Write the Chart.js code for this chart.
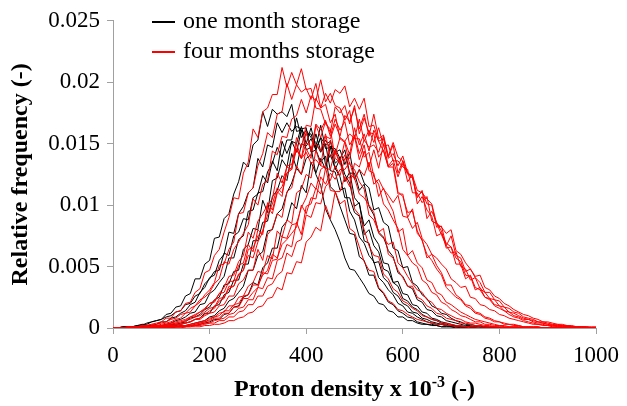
<!DOCTYPE html>
<html><head><meta charset="utf-8">
<script src="https://cdn.jsdelivr.net/npm/chart.js@4.4.1/dist/chart.umd.min.js"></script>
<style>html,body{margin:0;padding:0;background:#fff}#wrap{width:627px;height:406px}</style>
</head><body><div id="wrap"><canvas id="c" width="627" height="406"></canvas></div>
<script>
const protonDensity = [0,10,20,30,40,50,60,70,80,90,100,110,120,130,140,150,160,170,180,190,200,210,220,230,240,250,260,270,280,290,300,310,320,330,340,350,360,370,380,390,400,410,420,430,440,450,460,470,480,490,500,510,520,530,540,550,560,570,580,590,600,610,620,630,640,650,660,670,680,690,700,710,720,730,740,750,760,770,780,790,800,810,820,830,840,850,860,870,880,890,900,910,920,930,940,950,960,970,980,990,1000];
const xTickLabels = ['0','200','400','600','800','1000'];
const yTickLabels = ['0','0.005','0.01','0.015','0.02','0.025'];
const legendLabels = ['one month storage','four months storage'];
const xTitleParts = ['Proton density x 10','-3',' (-)'];
const yTitle = 'Relative frequency (-)';

const oneMonth_1 = [0,0,0.0001,0.0001,0.0001,0.0002,0.0003,0.0003,0.0005,0.0006,
0.0007,0.0011,0.0012,0.0017,0.0018,0.0026,0.0028,0.0040,0.0040,0.0052,
0.0055,0.0073,0.0074,0.0089,0.0093,0.0109,0.0119,0.0135,0.0131,0.0149,
0.0153,0.0176,0.0164,0.0178,0.0174,0.0176,0.0172,0.0182,0.0160,0.0161,
0.0145,0.0147,0.0125,0.0116,0.0097,0.0088,0.0080,0.0070,0.0057,0.0048,
0.0047,0.0041,0.0035,0.0028,0.0026,0.0020,0.0019,0.0014,0.0013,0.0009,
0.0009,0.0006,0.0006,0.0004,0.0003,0.0003,0.0002,0.0002,0.0001,0.0001,
0.0001,0,0,0,0,0,0,0,0,0,
0,0,0,0,0,0,0,0,0,0,
0,0,0,0,0,0,0,0,0,0,
0];
const oneMonth_2 = [0,0,0,0.0001,0.0001,0.0001,0.0001,0.0002,0.0002,0.0003,
0.0005,0.0005,0.0008,0.0009,0.0012,0.0014,0.0019,0.0021,0.0029,0.0033,
0.0041,0.0043,0.0055,0.0060,0.0078,0.0077,0.0093,0.0099,0.0110,0.0114,
0.0138,0.0131,0.0149,0.0147,0.0167,0.0159,0.0167,0.0160,0.0164,0.0162,
0.0163,0.0143,0.0145,0.0135,0.0140,0.0115,0.0111,0.0099,0.0088,0.0077,
0.0076,0.0058,0.0055,0.0043,0.0043,0.0032,0.0028,0.0021,0.0019,0.0014,
0.0012,0.0009,0.0008,0.0005,0.0004,0.0003,0.0003,0.0002,0.0001,0.0001,
0.0001,0.0001,0,0,0,0,0,0,0,0,
0,0,0,0,0,0,0,0,0,0,
0,0,0,0,0,0,0,0,0,0,
0];
const oneMonth_3 = [0,0,0,0,0,0.0001,0.0001,0.0001,0.0001,0.0002,
0.0002,0.0003,0.0004,0.0006,0.0007,0.0009,0.0012,0.0013,0.0019,0.0020,
0.0028,0.0031,0.0037,0.0042,0.0057,0.0057,0.0072,0.0075,0.0095,0.0096,
0.0110,0.0111,0.0127,0.0134,0.0147,0.0139,0.0153,0.0153,0.0171,0.0155,
0.0161,0.0155,0.0151,0.0143,0.0150,0.0128,0.0127,0.0112,0.0114,0.0095,
0.0088,0.0074,0.0069,0.0059,0.0054,0.0041,0.0037,0.0031,0.0027,0.0020,
0.0018,0.0013,0.0012,0.0009,0.0007,0.0005,0.0004,0.0003,0.0003,0.0002,
0.0001,0.0001,0.0001,0.0001,0,0,0,0,0,0,
0,0,0,0,0,0,0,0,0,0,
0,0,0,0,0,0,0,0,0,0,
0];
const oneMonth_4 = [0,0,0,0,0,0,0,0.0001,0,0.0001,
0.0001,0.0002,0.0003,0.0003,0.0004,0.0005,0.0008,0.0009,0.0011,0.0015,
0.0017,0.0023,0.0025,0.0035,0.0036,0.0046,0.0047,0.0064,0.0068,0.0081,
0.0080,0.0104,0.0094,0.0120,0.0122,0.0137,0.0131,0.0152,0.0150,0.0164,
0.0150,0.0163,0.0147,0.0165,0.0146,0.0147,0.0129,0.0138,0.0125,0.0118,
0.0099,0.0102,0.0076,0.0080,0.0067,0.0062,0.0048,0.0046,0.0037,0.0034,
0.0024,0.0022,0.0017,0.0015,0.0011,0.0009,0.0007,0.0006,0.0004,0.0003,
0.0002,0.0002,0.0001,0.0001,0.0001,0,0,0,0,0,
0,0,0,0,0,0,0,0,0,0,
0,0,0,0,0,0,0,0,0,0,
0];
const oneMonth_5 = [0,0,0,0,0,0,0,0,0,0.0001,
0.0001,0.0001,0.0002,0.0002,0.0003,0.0004,0.0005,0.0007,0.0008,0.0012,
0.0012,0.0018,0.0019,0.0027,0.0029,0.0039,0.0039,0.0052,0.0052,0.0071,
0.0071,0.0086,0.0087,0.0107,0.0112,0.0124,0.0120,0.0142,0.0130,0.0150,
0.0148,0.0154,0.0145,0.0155,0.0149,0.0152,0.0134,0.0138,0.0119,0.0127,
0.0106,0.0101,0.0083,0.0088,0.0074,0.0068,0.0053,0.0052,0.0037,0.0038,
0.0028,0.0027,0.0019,0.0018,0.0013,0.0012,0.0008,0.0007,0.0005,0.0004,
0.0003,0.0002,0.0002,0.0001,0.0001,0.0001,0,0,0,0,
0,0,0,0,0,0,0,0,0,0,
0,0,0,0,0,0,0,0,0,0,
0];
const oneMonth_6 = [0,0,0,0,0,0,0,0,0,0,
0,0.0001,0.0001,0.0001,0.0002,0.0002,0.0003,0.0004,0.0005,0.0006,
0.0009,0.0010,0.0014,0.0016,0.0022,0.0024,0.0029,0.0034,0.0047,0.0047,
0.0059,0.0062,0.0079,0.0080,0.0093,0.0097,0.0110,0.0118,0.0130,0.0125,
0.0138,0.0141,0.0158,0.0144,0.0153,0.0146,0.0146,0.0138,0.0145,0.0126,
0.0126,0.0112,0.0117,0.0099,0.0092,0.0078,0.0074,0.0063,0.0058,0.0045,
0.0042,0.0034,0.0032,0.0023,0.0021,0.0015,0.0014,0.0010,0.0009,0.0006,
0.0005,0.0004,0.0003,0.0002,0.0002,0.0001,0.0001,0.0001,0,0,
0,0,0,0,0,0,0,0,0,0,
0,0,0,0,0,0,0,0,0,0,
0];
const oneMonth_7 = [0,0,0,0,0,0,0,0,0,0,
0,0,0,0.0001,0.0001,0.0001,0.0002,0.0002,0.0003,0.0004,
0.0005,0.0007,0.0007,0.0011,0.0012,0.0017,0.0018,0.0025,0.0027,0.0037,
0.0035,0.0049,0.0053,0.0065,0.0065,0.0082,0.0087,0.0102,0.0097,0.0116,
0.0110,0.0135,0.0126,0.0138,0.0129,0.0148,0.0143,0.0145,0.0133,0.0143,
0.0121,0.0129,0.0118,0.0114,0.0096,0.0098,0.0086,0.0083,0.0065,0.0063,
0.0049,0.0050,0.0037,0.0034,0.0027,0.0024,0.0018,0.0016,0.0012,0.0011,
0.0008,0.0006,0.0005,0.0003,0.0003,0.0002,0.0002,0.0001,0.0001,0.0001,
0,0,0,0,0,0,0,0,0,0,
0,0,0,0,0,0,0,0,0,0,
0];
const oneMonth_8 = [0,0,0.0001,0.0001,0.0001,0.0002,0.0002,0.0004,0.0005,0.0006,
0.0007,0.0009,0.0010,0.0013,0.0014,0.0019,0.0020,0.0026,0.0028,0.0036,
0.0040,0.0046,0.0047,0.0061,0.0059,0.0075,0.0078,0.0089,0.0088,0.0106,
0.0109,0.0124,0.0118,0.0136,0.0128,0.0152,0.0142,0.0152,0.0143,0.0161,
0.0157,0.0158,0.0145,0.0155,0.0133,0.0141,0.0130,0.0123,0.0106,0.0106,
0.0094,0.0091,0.0071,0.0069,0.0053,0.0054,0.0041,0.0037,0.0029,0.0026,
0.0020,0.0018,0.0013,0.0012,0.0008,0.0007,0.0005,0.0004,0.0003,0.0002,
0.0002,0.0001,0.0001,0.0001,0,0,0,0,0,0,
0,0,0,0,0,0,0,0,0,0,
0,0,0,0,0,0,0,0,0,0,
0];

const fourMonths_1 = [0,0,0,0.0001,0.0001,0.0001,0.0002,0.0002,0.0003,0.0004,
0.0005,0.0008,0.0008,0.0013,0.0014,0.0020,0.0021,0.0029,0.0032,0.0045,
0.0047,0.0059,0.0064,0.0078,0.0090,0.0106,0.0105,0.0126,0.0135,0.0162,
0.0155,0.0176,0.0179,0.0190,0.0190,0.0212,0.0196,0.0208,0.0198,0.0211,
0.0194,0.0195,0.0179,0.0178,0.0166,0.0162,0.0138,0.0135,0.0120,0.0123,
0.0097,0.0092,0.0080,0.0067,0.0059,0.0058,0.0044,0.0040,0.0032,0.0029,
0.0022,0.0020,0.0016,0.0014,0.0010,0.0009,0.0007,0.0006,0.0004,0.0004,
0.0003,0.0002,0.0002,0.0001,0.0001,0.0001,0,0,0,0,
0,0,0,0,0,0,0,0,0,0,
0,0,0,0,0,0,0,0,0,0,
0];
const fourMonths_2 = [0,0,0,0,0,0.0001,0.0001,0.0001,0.0002,0.0002,
0.0003,0.0004,0.0005,0.0007,0.0008,0.0012,0.0013,0.0018,0.0021,0.0027,
0.0031,0.0037,0.0051,0.0052,0.0064,0.0070,0.0093,0.0094,0.0110,0.0114,
0.0132,0.0142,0.0159,0.0155,0.0174,0.0176,0.0199,0.0186,0.0198,0.0192,
0.0195,0.0186,0.0199,0.0179,0.0182,0.0167,0.0174,0.0154,0.0151,0.0133,
0.0129,0.0119,0.0113,0.0092,0.0088,0.0078,0.0081,0.0060,0.0057,0.0047,
0.0041,0.0034,0.0034,0.0025,0.0023,0.0018,0.0016,0.0012,0.0011,0.0008,
0.0007,0.0006,0.0004,0.0004,0.0003,0.0002,0.0002,0.0001,0.0001,0.0001,
0.0001,0,0,0,0,0,0,0,0,0,
0,0,0,0,0,0,0,0,0,0,
0];
const fourMonths_3 = [0,0,0,0.0001,0.0001,0.0001,0.0002,0.0002,0.0003,0.0003,
0.0004,0.0005,0.0007,0.0008,0.0011,0.0012,0.0016,0.0018,0.0023,0.0025,
0.0029,0.0036,0.0040,0.0054,0.0052,0.0064,0.0070,0.0077,0.0084,0.0105,
0.0100,0.0117,0.0120,0.0144,0.0141,0.0156,0.0155,0.0170,0.0173,0.0186,
0.0175,0.0189,0.0185,0.0202,0.0184,0.0191,0.0181,0.0179,0.0169,0.0177,
0.0154,0.0154,0.0139,0.0143,0.0123,0.0117,0.0101,0.0096,0.0088,0.0081,
0.0064,0.0059,0.0053,0.0050,0.0039,0.0036,0.0029,0.0027,0.0021,0.0019,
0.0015,0.0013,0.0010,0.0009,0.0007,0.0005,0.0005,0.0003,0.0003,0.0002,
0.0002,0.0001,0.0001,0.0001,0.0001,0,0.0001,0,0,0,
0,0,0,0,0,0,0,0,0,0,
0];
const fourMonths_4 = [0,0,0,0,0,0,0,0.0001,0.0001,0.0001,
0.0002,0.0002,0.0003,0.0004,0.0004,0.0006,0.0007,0.0009,0.0010,0.0013,
0.0016,0.0017,0.0024,0.0025,0.0032,0.0034,0.0043,0.0047,0.0059,0.0057,
0.0070,0.0078,0.0099,0.0093,0.0110,0.0115,0.0126,0.0131,0.0155,0.0147,
0.0165,0.0164,0.0187,0.0179,0.0191,0.0183,0.0194,0.0191,0.0197,0.0180,
0.0187,0.0178,0.0187,0.0164,0.0165,0.0152,0.0144,0.0131,0.0134,0.0111,
0.0107,0.0094,0.0095,0.0079,0.0071,0.0060,0.0055,0.0048,0.0043,0.0033,
0.0029,0.0025,0.0023,0.0018,0.0016,0.0012,0.0011,0.0008,0.0007,0.0005,
0.0005,0.0003,0.0003,0.0002,0.0002,0.0001,0.0001,0.0001,0.0001,0,
0,0.0001,0,0,0,0,0,0,0,0,
0];
const fourMonths_5 = [0,0,0,0,0,0,0,0,0,0.0001,
0.0001,0.0001,0.0002,0.0003,0.0003,0.0004,0.0005,0.0007,0.0007,0.0010,
0.0012,0.0013,0.0018,0.0019,0.0026,0.0026,0.0036,0.0039,0.0047,0.0047,
0.0064,0.0055,0.0076,0.0081,0.0093,0.0090,0.0111,0.0114,0.0132,0.0125,
0.0146,0.0138,0.0165,0.0155,0.0168,0.0159,0.0180,0.0175,0.0181,0.0166,
0.0181,0.0158,0.0171,0.0159,0.0158,0.0139,0.0145,0.0131,0.0131,0.0109,
0.0109,0.0090,0.0097,0.0077,0.0072,0.0057,0.0060,0.0051,0.0045,0.0035,
0.0035,0.0027,0.0024,0.0019,0.0018,0.0013,0.0012,0.0009,0.0008,0.0006,
0.0005,0.0004,0.0003,0.0003,0.0002,0.0001,0.0001,0.0001,0.0001,0,
0,0,0.0001,0,0,0,0,0,0,0,
0];
const fourMonths_6 = [0,0,0,0,0,0,0,0,0,0,
0.0001,0.0001,0.0001,0.0001,0.0002,0.0002,0.0003,0.0004,0.0005,0.0006,
0.0008,0.0009,0.0012,0.0013,0.0018,0.0018,0.0025,0.0026,0.0034,0.0037,
0.0046,0.0045,0.0059,0.0056,0.0079,0.0074,0.0088,0.0085,0.0110,0.0113,
0.0125,0.0122,0.0145,0.0132,0.0156,0.0154,0.0166,0.0156,0.0173,0.0168,
0.0179,0.0162,0.0174,0.0156,0.0174,0.0154,0.0157,0.0140,0.0151,0.0139,
0.0136,0.0119,0.0125,0.0101,0.0107,0.0096,0.0091,0.0075,0.0077,0.0069,
0.0066,0.0052,0.0052,0.0040,0.0043,0.0033,0.0031,0.0025,0.0024,0.0019,
0.0018,0.0014,0.0013,0.0010,0.0009,0.0007,0.0007,0.0005,0.0004,0.0004,
0.0003,0.0002,0.0002,0.0001,0.0001,0.0001,0.0001,0.0001,0,0,
0];
const fourMonths_7 = [0,0,0,0,0,0,0,0,0,0,
0,0.0001,0.0001,0.0001,0.0001,0.0002,0.0002,0.0003,0.0004,0.0005,
0.0006,0.0008,0.0008,0.0012,0.0012,0.0017,0.0017,0.0024,0.0024,0.0029,
0.0033,0.0045,0.0044,0.0055,0.0056,0.0074,0.0073,0.0084,0.0085,0.0098,
0.0106,0.0118,0.0113,0.0129,0.0132,0.0153,0.0141,0.0155,0.0152,0.0158,
0.0154,0.0170,0.0152,0.0161,0.0151,0.0163,0.0148,0.0149,0.0136,0.0136,
0.0131,0.0129,0.0110,0.0110,0.0102,0.0107,0.0087,0.0085,0.0076,0.0067,
0.0061,0.0062,0.0050,0.0048,0.0039,0.0041,0.0032,0.0029,0.0024,0.0023,
0.0018,0.0017,0.0013,0.0012,0.0010,0.0008,0.0007,0.0006,0.0005,0.0004,
0.0003,0.0003,0.0002,0.0002,0.0001,0.0001,0.0001,0.0001,0.0001,0,
0];
const fourMonths_8 = [0,0,0,0,0,0,0,0,0,0,
0,0,0.0001,0.0001,0.0001,0.0001,0.0002,0.0002,0.0003,0.0004,
0.0004,0.0006,0.0007,0.0008,0.0011,0.0012,0.0016,0.0017,0.0023,0.0023,
0.0033,0.0032,0.0041,0.0040,0.0055,0.0057,0.0068,0.0066,0.0086,0.0076,
0.0099,0.0101,0.0114,0.0109,0.0130,0.0129,0.0145,0.0135,0.0152,0.0141,
0.0163,0.0149,0.0158,0.0144,0.0161,0.0152,0.0154,0.0139,0.0149,0.0126,
0.0136,0.0126,0.0123,0.0107,0.0111,0.0101,0.0100,0.0082,0.0083,0.0067,
0.0075,0.0059,0.0057,0.0046,0.0048,0.0041,0.0037,0.0029,0.0029,0.0023,
0.0022,0.0017,0.0016,0.0013,0.0012,0.0009,0.0008,0.0007,0.0005,0.0005,
0.0004,0.0003,0.0003,0.0002,0.0002,0.0001,0.0001,0.0001,0.0001,0,
0];
const fourMonths_9 = [0,0,0,0,0,0,0,0,0,0,
0,0,0,0.0001,0.0001,0.0001,0.0001,0.0002,0.0002,0.0003,
0.0004,0.0004,0.0006,0.0006,0.0009,0.0009,0.0013,0.0014,0.0019,0.0019,
0.0026,0.0026,0.0034,0.0036,0.0043,0.0046,0.0061,0.0058,0.0070,0.0072,
0.0092,0.0090,0.0102,0.0101,0.0115,0.0120,0.0132,0.0124,0.0138,0.0138,
0.0157,0.0142,0.0153,0.0147,0.0149,0.0143,0.0156,0.0138,0.0142,0.0132,
0.0140,0.0126,0.0124,0.0112,0.0110,0.0105,0.0101,0.0085,0.0082,0.0077,
0.0080,0.0063,0.0060,0.0053,0.0048,0.0042,0.0043,0.0033,0.0031,0.0026,
0.0024,0.0020,0.0018,0.0015,0.0013,0.0011,0.0010,0.0008,0.0007,0.0005,
0.0005,0.0004,0.0003,0.0003,0.0002,0.0002,0.0001,0.0001,0.0001,0.0001,
0.0001];
const fourMonths_10 = [0,0,0,0,0,0,0,0,0,0,
0,0,0,0,0,0.0001,0.0001,0.0001,0.0001,0.0002,
0.0002,0.0003,0.0003,0.0004,0.0006,0.0006,0.0008,0.0009,0.0012,0.0013,
0.0017,0.0018,0.0024,0.0025,0.0033,0.0031,0.0045,0.0044,0.0054,0.0053,
0.0070,0.0074,0.0082,0.0079,0.0100,0.0089,0.0111,0.0111,0.0123,0.0115,
0.0134,0.0131,0.0144,0.0131,0.0145,0.0130,0.0150,0.0132,0.0137,0.0123,
0.0134,0.0125,0.0122,0.0106,0.0112,0.0089,0.0095,0.0086,0.0079,0.0065,
0.0066,0.0057,0.0054,0.0043,0.0042,0.0031,0.0033,0.0025,0.0023,0.0018,
0.0016,0.0014,0.0011,0.0009,0.0008,0.0006,0.0005,0.0004,0.0003,0.0003,
0.0002,0.0002,0.0001,0.0001,0.0001,0.0001,0,0.0001,0,0,
0];
const fourMonths_11 = [0,0,0,0,0,0.0001,0.0001,0.0001,0.0001,0.0002,
0.0002,0.0003,0.0004,0.0005,0.0006,0.0007,0.0009,0.0011,0.0013,0.0016,
0.0020,0.0021,0.0028,0.0029,0.0038,0.0038,0.0051,0.0053,0.0068,0.0062,
0.0080,0.0076,0.0102,0.0096,0.0111,0.0107,0.0132,0.0133,0.0145,0.0138,
0.0160,0.0144,0.0166,0.0161,0.0169,0.0156,0.0170,0.0161,0.0168,0.0149,
0.0156,0.0137,0.0149,0.0128,0.0126,0.0107,0.0114,0.0103,0.0095,0.0078,
0.0081,0.0059,0.0063,0.0053,0.0049,0.0039,0.0037,0.0029,0.0027,0.0021,
0.0019,0.0016,0.0013,0.0011,0.0009,0.0007,0.0006,0.0005,0.0004,0.0003,
0.0002,0.0002,0.0001,0.0001,0.0001,0.0001,0,0,0,0,
0,0,0,0,0,0,0,0,0,0,
0];
const fourMonths_12 = [0,0,0,0,0,0,0,0,0,0,
0.0001,0.0001,0.0001,0.0001,0.0001,0.0002,0.0002,0.0003,0.0004,0.0005,
0.0007,0.0009,0.0010,0.0014,0.0014,0.0019,0.0020,0.0026,0.0027,0.0035,
0.0035,0.0043,0.0047,0.0060,0.0057,0.0068,0.0072,0.0077,0.0082,0.0100,
0.0093,0.0106,0.0105,0.0123,0.0117,0.0126,0.0121,0.0129,0.0129,0.0135,
0.0121,0.0129,0.0124,0.0135,0.0117,0.0121,0.0113,0.0108,0.0102,0.0108,
0.0091,0.0090,0.0081,0.0086,0.0073,0.0068,0.0060,0.0057,0.0052,0.0048,
0.0040,0.0037,0.0033,0.0034,0.0025,0.0024,0.0019,0.0018,0.0015,0.0014,
0.0011,0.0010,0.0008,0.0007,0.0006,0.0005,0.0004,0.0003,0.0003,0.0002,
0.0002,0.0001,0.0001,0.0001,0.0001,0.0001,0,0,0,0,
0];
const fourMonths_13 = [0,0,0,0,0,0,0,0.0001,0.0001,0.0001,
0.0002,0.0002,0.0003,0.0004,0.0005,0.0006,0.0009,0.0010,0.0013,0.0015,
0.0020,0.0022,0.0028,0.0033,0.0042,0.0043,0.0054,0.0059,0.0078,0.0073,
0.0087,0.0093,0.0100,0.0105,0.0126,0.0118,0.0131,0.0129,0.0146,0.0138,
0.0143,0.0134,0.0137,0.0132,0.0131,0.0112,0.0111,0.0101,0.0104,0.0081,
0.0078,0.0066,0.0054,0.0047,0.0046,0.0033,0.0029,0.0022,0.0020,0.0015,
0.0014,0.0011,0.0009,0.0007,0.0006,0.0005,0.0004,0.0003,0.0003,0.0002,
0.0002,0.0001,0.0001,0.0001,0,0,0,0,0,0,
0,0,0,0,0,0,0,0,0,0,
0,0,0,0,0,0,0,0,0,0,
0];
const fourMonths_14 = [0,0,0,0,0,0,0,0,0,0.0001,
0.0001,0.0001,0.0002,0.0002,0.0003,0.0004,0.0005,0.0007,0.0008,0.0011,
0.0014,0.0016,0.0022,0.0024,0.0034,0.0034,0.0044,0.0047,0.0064,0.0065,
0.0075,0.0079,0.0092,0.0101,0.0114,0.0110,0.0126,0.0129,0.0150,0.0138,
0.0151,0.0147,0.0150,0.0144,0.0158,0.0139,0.0144,0.0133,0.0141,0.0125,
0.0122,0.0109,0.0106,0.0100,0.0094,0.0077,0.0073,0.0068,0.0070,0.0053,
0.0049,0.0042,0.0036,0.0031,0.0029,0.0023,0.0021,0.0016,0.0015,0.0012,
0.0010,0.0008,0.0007,0.0005,0.0004,0.0004,0.0003,0.0002,0.0002,0.0001,
0.0001,0.0001,0,0,0,0,0,0,0,0,
0,0,0,0,0,0,0,0,0,0,
0];

const oneMonthSeries = [oneMonth_1,oneMonth_2,oneMonth_3,oneMonth_4,oneMonth_5,oneMonth_6,oneMonth_7,oneMonth_8];
const fourMonthsSeries = [fourMonths_1,fourMonths_2,fourMonths_3,fourMonths_4,fourMonths_5,fourMonths_6,fourMonths_7,fourMonths_8,fourMonths_9,fourMonths_10,fourMonths_11,fourMonths_12,fourMonths_13,fourMonths_14];

const BLACK = '#000000', RED = '#ff0000', AXIS = '#a0a0a0';
const SERIF = '"Liberation Serif", "Times New Roman", serif';

function toPoints(arr){ return protonDensity.map((x,i)=>({x:x, y:arr[i]})); }
const datasets = [];
oneMonthSeries.forEach((s,i)=>datasets.push({label: legendLabels[0]+' '+(i+1), data: toPoints(s), borderColor: BLACK, order: 1}));
fourMonthsSeries.forEach((s,i)=>datasets.push({label: legendLabels[1]+' '+(i+1), data: toPoints(s), borderColor: RED, order: 0}));

const legendPlugin = {
  id: 'legendBox',
  afterDraw(chart){
    const ctx = chart.ctx;
    ctx.save();
    const cols = [BLACK, RED];
    const ys = [22, 52];
    ctx.font = '24px ' + SERIF;
    ctx.textBaseline = 'middle';
    ctx.textAlign = 'left';
    legendLabels.forEach((t,i)=>{
      ctx.strokeStyle = cols[i]; ctx.lineWidth = 2;
      ctx.beginPath(); ctx.moveTo(152, ys[i]); ctx.lineTo(175, ys[i]); ctx.stroke();
      ctx.fillStyle = '#000';
      ctx.fillText(t, 183, ys[i]);
    });
    ctx.restore();
  }
};
const xTitlePlugin = {
  id: 'xTitle',
  afterDraw(chart){
    const ctx = chart.ctx, a = chart.chartArea;
    ctx.save();
    const big = 'bold 24px ' + SERIF, small = 'bold 16px ' + SERIF;
    ctx.font = big; const w1 = ctx.measureText(xTitleParts[0]).width; const w3 = ctx.measureText(xTitleParts[2]).width;
    ctx.font = small; const w2 = ctx.measureText(xTitleParts[1]).width;
    let x = (a.left + a.right)/2 - (w1+w2+w3)/2;
    const y = 396;
    ctx.fillStyle = '#000'; ctx.textBaseline = 'alphabetic'; ctx.textAlign = 'left';
    ctx.font = big; ctx.fillText(xTitleParts[0], x, y); x += w1;
    ctx.font = small; ctx.fillText(xTitleParts[1], x, y - 9); x += w2;
    ctx.font = big; ctx.fillText(xTitleParts[2], x, y);
    ctx.restore();
  }
};

new Chart(document.getElementById('c'), {
  type: 'line',
  data: { datasets: datasets },
  options: {
    responsive: false,
    animation: false,
    devicePixelRatio: 1,
    layout: { padding: { left: 0, right: 29, top: 20, bottom: 0 } },
    elements: { point: { radius: 0 }, line: { borderWidth: 1, tension: 0 } },
    plugins: { legend: { display: false }, tooltip: { enabled: false } },
    scales: {
      x: {
        type: 'linear', min: 0, max: 1000,
        afterFit: (s)=>{ s.height = 78; },
        ticks: { stepSize: 200, color: '#000', font: { family: SERIF, size: 23 }, padding: 8, maxRotation: 0,
                 callback: (v,i)=>xTickLabels[i] },
        grid: { display: true, drawOnChartArea: false, drawTicks: true, tickLength: 6, color: AXIS },
        border: { display: true, color: AXIS, width: 1 },
        title: { display: false }
      },
      y: {
        type: 'linear', min: 0, max: 0.025,
        afterFit: (s)=>{ s.width = 113; },
        ticks: { stepSize: 0.005, color: '#000', font: { family: SERIF, size: 23 }, padding: 7,
                 callback: (v,i)=>yTickLabels[i] },
        grid: { display: true, drawOnChartArea: false, drawTicks: true, tickLength: 6, color: AXIS },
        border: { display: true, color: AXIS, width: 1 },
        title: { display: true, text: yTitle, color: '#000', font: { family: SERIF, size: 24, weight: 'bold' }, padding: { top: 6, bottom: 0 } }
      }
    }
  },
  plugins: [legendPlugin, xTitlePlugin]
});
</script>
</body></html>
